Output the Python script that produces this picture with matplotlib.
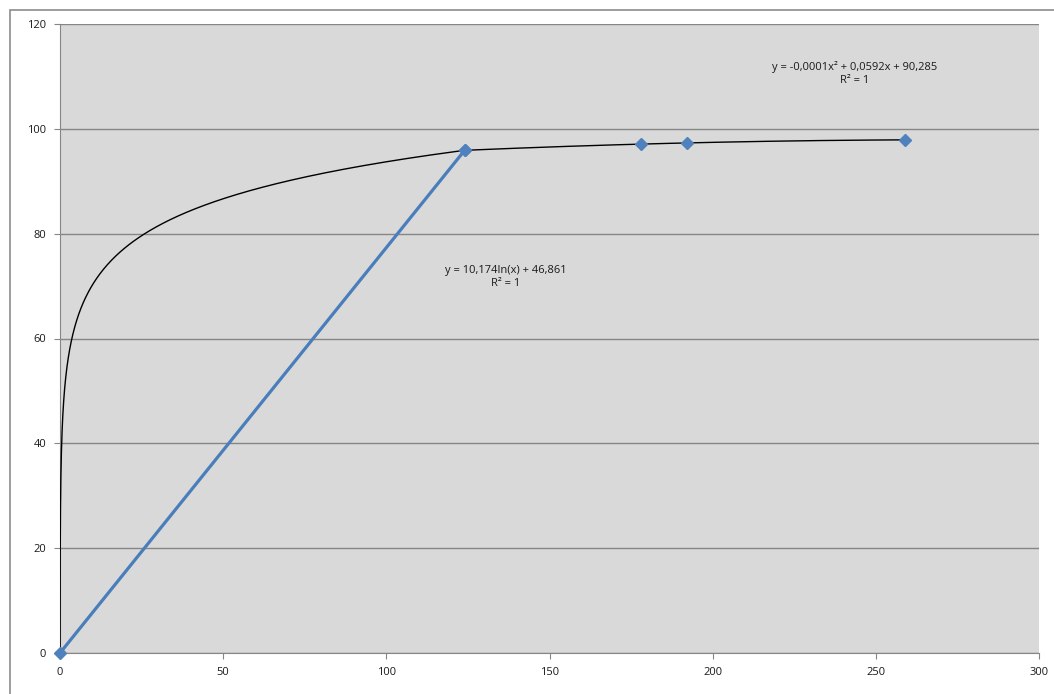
import numpy as np
import matplotlib
matplotlib.use("Agg")
import matplotlib.pyplot as plt
from matplotlib.patches import Rectangle

# series 1: straight segment
line_x = [0, 124]
line_y = [0, 95.9]

# series 2: markers only
pts_x = [124, 178, 192, 259]
pts_y = [95.9, 97.1, 97.3, 97.9]

# trendline equations as printed on the chart
log_a, log_b = 10.174, 46.861
eq_log = "y = 10,174ln(x) + 46,861\nR² = 1"
eq_poly = "y = -0,0001x² + 0,0592x + 90,285\nR² = 1"

xticks = [0, 50, 100, 150, 200, 250, 300]
yticks = [0, 20, 40, 60, 80, 100, 120]

plt.rcParams['font.family'] = ['Open Sans', 'DejaVu Sans']

fig = plt.figure(figsize=(10.54, 6.94), dpi=100)
ax = fig.add_axes([60 / 1054, 41 / 694, 979 / 1054, 629 / 694])
ax.set_facecolor('#d9d9d9')

# outer chart border (top and left visible)
fig.add_artist(Rectangle((10 / 1054, -0.1), 1.2, (684 / 694) + 0.1,
                         transform=fig.transFigure, fill=False,
                         edgecolor='#8c8c8c', lw=1.2))

ax.set_xlim(0, 300)
ax.set_ylim(0, 120)
ax.set_xticks(xticks)
ax.set_yticks(yticks)
ax.grid(True, axis='y', color='#868686', lw=1)
ax.set_axisbelow(True)
for s in ['top', 'right']:
    ax.spines[s].set_visible(False)
for s in ['left', 'bottom']:
    ax.spines[s].set_color('#868686')
ax.tick_params(colors='#868686', labelcolor='#1a1a1a', labelsize=8,
               length=4, direction='out', pad=6)

# log trendline
tx = np.geomspace(0.005, 124, 600)
ty = log_a * np.log(tx) + log_b
ax.plot(tx, np.clip(ty, 0, None), color='black', lw=1, zorder=3)

# polynomial trendline fitted to series 2
c = np.polyfit(pts_x, pts_y, 2)
px = np.linspace(124, 259, 200)
ax.plot(px, np.polyval(c, px), color='black', lw=1, zorder=3)

ax.plot(line_x, line_y, color='#4a7ebb', lw=2.3, marker='D', ms=6,
        markerfacecolor='#4f81bd', markeredgecolor='#4f81bd', zorder=4,
        clip_on=False)
ax.plot(pts_x, pts_y, ls='none', marker='D', ms=6,
        markerfacecolor='#4f81bd', markeredgecolor='#4f81bd', zorder=5)

ax.text(136.5, 71.8, eq_log, ha='center', va='center', fontsize=8,
        color='#1a1a1a', linespacing=1.25)
ax.text(243.5, 110.6, eq_poly, ha='center', va='center', fontsize=8,
        color='#1a1a1a', linespacing=1.25)

fig.savefig('out.png', dpi=100)
